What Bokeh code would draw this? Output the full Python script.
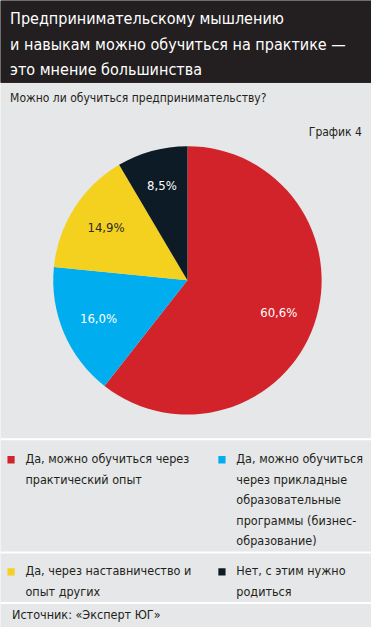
import math
from bokeh.plotting import figure
from bokeh.models import Range1d
from bokeh.core.properties import value
from bokeh.embed import file_html
from bokeh.resources import INLINE

# ---- data ----
title_lines = [
    "Предпринимательскому мышлению",
    "и навыкам можно обучиться на практике —",
    "это мнение большинства",
]
subtitle = "Можно ли обучиться предпринимательству?"
chart_no = "График 4"
categories = [
    "Да, можно обучиться через практический опыт",
    "Да, можно обучиться через прикладные образовательные программы (бизнес-образование)",
    "Да, через наставничество и опыт других",
    "Нет, с этим нужно родиться",
]
shares = [60.6, 16.0, 14.9, 8.5]
share_labels = ["60,6%", "16,0%", "14,9%", "8,5%"]
legend_lines = [
    ["Да, можно обучиться через", "практический опыт"],
    ["Да, можно обучиться", "через прикладные", "образовательные", "программы (бизнес-", "образование)"],
    ["Да, через наставничество и", "опыт других"],
    ["Нет, с этим нужно", "родиться"],
]
source_text = "Источник: «Эксперт ЮГ»"

colors = ["#d2232a", "#00aeef", "#f4d01f", "#0c1b25"]
label_colors = ["#ffffff", "#ffffff", "#2b2b2b", "#ffffff"]

FONT = "DejaVu Sans Condensed"
W, H = 387, 643


def Y(y):
    return H - y


p = figure(width=371, height=627, x_range=Range1d(0, W), y_range=Range1d(0, H),
           output_backend="svg", toolbar_location=None, min_border=0)
p.axis.visible = False
p.grid.visible = False
p.outline_line_color = None
p.background_fill_color = "#e6e7e8"
p.border_fill_color = "#e6e7e8"

# header
p.quad(left=0, right=W, top=H, bottom=Y(84), color="#231f20")
for i, (t, yy) in enumerate(zip(title_lines, [18, 45, 71])):
    p.text(x=[10], y=[Y(yy)], text=[t], text_color="#ffffff", text_font=value(FONT),
           text_font_size="16px", text_baseline="middle", text_align="left")

p.text(x=[10], y=[Y(100)], text=[subtitle], text_color="#231f20", text_font=value(FONT),
       text_font_size="12px", text_baseline="middle", text_align="left")
p.text(x=[377], y=[Y(135)], text=[chart_no], text_color="#231f20", text_font=value(FONT),
       text_font_size="12px", text_baseline="middle", text_align="right")

# pie
cx, cy, R = 195, Y(287), 140
total = sum(shares)
cum = 0.0
starts, ends, lx, ly = [], [], [], []
for s in shares:
    a0 = math.pi / 2 - cum / total * 2 * math.pi
    cum += s
    a1 = math.pi / 2 - cum / total * 2 * math.pi
    starts.append(a0)
    ends.append(a1)
    mid = (a0 + a1) / 2
    lx.append(cx + 0.72 * R * math.cos(mid))
    ly.append(cy + 0.72 * R * math.sin(mid))

p.wedge(x=[cx] * 4, y=[cy] * 4, radius=R, start_angle=starts, end_angle=ends,
        direction="clock", fill_color=colors, line_color=None)
p.text(x=lx, y=ly, text=share_labels, text_color=label_colors, text_font=value(FONT),
       text_font_size="13px", text_align="center", text_baseline="middle")

# separators
for yy in [450, 566, 618]:
    p.segment(x0=[0], y0=[Y(yy)], x1=[W], y1=[Y(yy)], line_color="#ffffff", line_width=2)

# legend
pos = [(11, 471), (231, 471), (11, 586), (231, 586)]
for (sx, sy), col, lines in zip(pos, colors, legend_lines):
    p.rect(x=[sx], y=[Y(sy)], width=7.5, height=7.5, fill_color=col, line_color=None)
    xs = [sx + 15] * len(lines)
    ys = [Y(sy - 1 + 21 * k) for k in range(len(lines))]
    p.text(x=xs, y=ys, text=lines, text_color="#231f20", text_font=value(FONT),
           text_font_size="12.5px", text_baseline="middle", text_align="left")

p.text(x=[12], y=[Y(630)], text=[source_text], text_color="#231f20", text_font=value(FONT),
       text_font_size="12.5px", text_baseline="middle", text_align="left")

open("out.html", "w").write(file_html(p, INLINE))
